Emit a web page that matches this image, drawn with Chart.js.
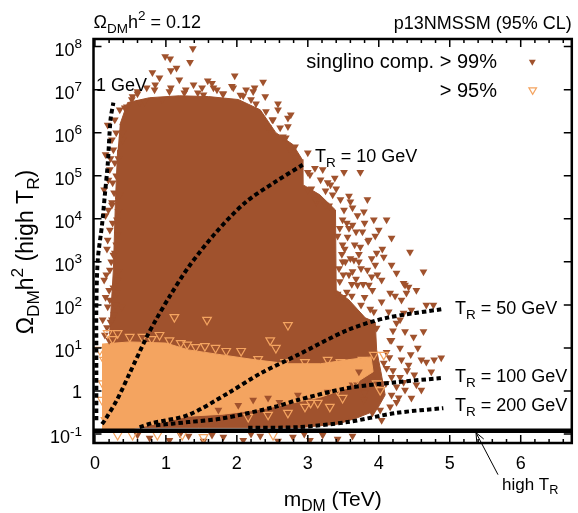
<!DOCTYPE html>
<html>
<head>
<meta charset="utf-8">
<script src="https://cdn.jsdelivr.net/npm/chart.js@4.4.1/dist/chart.umd.min.js"></script>
<style>
  html, body { margin: 0; padding: 0; background: #fff; }
  #chart { display: block; }
</style>
</head>
<body>
<canvas id="chart" width="578" height="513" style="width:578px;height:513px"></canvas>
<script>
// Axis ranges and ticks
const xRange = [-0.02, 6.72];
const yRange = [0.062, 1.5e8];
const xTicks = [0, 1, 2, 3, 4, 5, 6];
const xMinorStep = 0.2;
const yTickPowers = [-1, 0, 1, 2, 3, 4, 5, 6, 7, 8];
const yTickLabels = [['10', '-1'], ['1', ''], ['10', '1'], ['10', '2'], ['10', '3'],
                     ['10', '4'], ['10', '5'], ['10', '6'], ['10', '7'], ['10', '8']];
const omegaRelic = 0.12;

// Dense part of the >99% singlino cloud (outline, m_DM in TeV, Omega h^2)
const brownArea = [[0.35,1.5e6],[0.46,5e6],[0.77,6.5e6],[1.19,7.2e6],[1.60,6.9e6],[2.02,5.9e6],
  [2.33,3.4e6],[2.55,1e6],[2.79,5.3e5],[2.92,2.4e5],[2.93,6.2e4],[3.17,3.6e4],[3.39,1.6e4],
  [3.40,220],[3.58,130],[3.81,50],[3.95,40],[3.97,9],[4.03,2.8],[4.09,0.81],[3.97,0.36],
  [3.70,0.24],[3.42,0.17],[2.86,0.14],[1.46,0.14],[0.24,0.14],[0.18,1.8],[0.21,26],
  [0.26,650],[0.29,2.8e4],[0.32,4e5]];

// Dense part of the >95% cloud (outline)
const orangeArea = [[0.10,12.3],[0.49,13.8],[1.0,13],[1.32,9],[1.79,6.9],[2.26,5.3],[2.72,4.3],
  [3.18,4.3],[3.56,5.3],[3.89,6.2],[3.92,2.8],[3.56,1.17],[3.18,0.72],[2.72,0.5],[2.26,0.36],
  [1.81,0.29],[1.32,0.26],[0.84,0.17],[0.49,0.13],[0.10,0.13]];

// Scattered >99% points around the dense part
const brownPoints = [
  // upper fringe
  [1.38,9e7],[0.99,5.9e7],[1.06,5.2e7],[1.34,4.3e7],[1.07,2.8e7],[0.81,2.5e7],[0.91,1.9e7],
  [1.19,1.7e7],[1.59,1.6e7],[1.97,2.1e7],[2.37,1.5e7],[1.72,1e7],[2.40,6.9e6],[0.73,1.1e7],
  [0.53,6.9e6],[1.51,1.1e7],[1.28,1e7],[1.93,1.2e7],[2.13,1e7],[0.63,5e6],[0.35,3.4e6],
  [0.28,2e6],[0.39,1e6],[2.58,3.4e6],[2.76,2.6e6],[2.20,5.9e6],[2.72,1.4e6],[1.45,8.5e6],
  [1.05,9e6],[0.60,8e6],[1.80,8e6],[2.05,7.5e6],[2.50,2e6],[2.65,8e5],[0.45,4e6],[0.85,1.3e7],
  [1.65,1.4e7],[2.25,1.1e7],[1.15,3.2e7],
  [0.42,3.8e6],[0.52,5.9e6],[0.60,9e6],[0.70,5.2e6],[0.84,1e7],[0.95,5.9e6],[1.07,1.1e7],
  [1.26,8.5e6],[1.39,1.3e7],[1.53,7.6e6],[1.67,1.1e7],[1.81,8e6],[1.95,1.1e7],[2.09,7.2e6],
  [2.23,9e6],[2.27,4.7e6],[2.41,3.1e6],[2.51,2e6],[2.44,1.3e6],[2.61,1.3e6],[2.69,7.6e5],
  [2.75,4e5],[2.83,2.6e5],[2.72,2.2e6],[2.58,4.7e6],
  // left fringe
  [0.25,6.9e4],[0.24,2.4e4],[0.31,9.5e3],[0.21,5.5e3],[0.28,1.6e3],[0.21,650],[0.31,190],
  [0.18,90],[0.38,90],[0.28,2e5],[0.39,6.9e5],[0.22,40],[0.20,15],
  [0.18,1.5e6],[0.24,6.9e5],[0.15,3.1e5],[0.21,1.4e5],[0.13,4.7e4],[0.24,2.1e4],[0.15,1.2e4],
  [0.18,3.2e3],[0.26,1.45e3],[0.13,380],[0.21,130],[0.11,45],[0.24,45],[0.32,4.3e3],
  [0.35,3.6e4],[0.32,380],
  [0.30,1e6],[0.26,4e5],[0.33,2.5e5],[0.22,2.5e5],[0.30,1e5],[0.19,8e4],[0.27,4e4],[0.33,1.5e4],
  [0.19,1.6e4],[0.25,8e3],[0.17,2e3],[0.30,2.5e3],[0.23,1e3],[0.33,600],[0.16,500],[0.26,250],
  [0.20,220],[0.29,100],[0.15,150],[0.27,60],[0.17,30],[0.30,25],[0.14,20],[0.25,20],
  // right fringe
  [2.82,4.7e5],[3.0,3.4e5],[3.10,1.5e5],[3.18,8.1e4],[3.38,8.9e4],[3.51,1.2e5],[3.74,1.2e5],
  [3.32,6.2e4],[3.58,3.4e4],[3.46,2.8e4],[3.84,2.8e4],[3.51,1.6e4],[3.63,1.8e4],[3.79,1.45e4],
  [3.93,9.5e3],[4.11,9.5e3],[4.0,5.5e3],[4.18,3.6e3],[4.44,1.7e3],[4.63,590],[3.97,1.6e3],
  [4.07,1.3e3],[4.25,550],[4.35,320],[4.39,190],[4.67,100],[4.16,190],[3.84,650],[3.65,1.1e3],
  [3.56,3.8e3],[3.74,2.2e3],[3.49,2.5e3],[3.70,290],[3.91,220],[4.37,290],[4.23,160],[4.77,100],
  [4.63,24],[4.60,5.3],[4.78,5.3],[4.74,2.8],[4.50,2.4],[4.30,2.1],[4.25,1.25],[4.46,0.69],
  [4.60,1.05],[4.18,2.1],[4.30,10],[4.49,18],[4.37,24],[4.25,38],[4.07,4.5],[4.11,8],[4.35,65],
  [4.04,118],[3.93,69],[4.16,0.43],[3.91,0.31],[3.79,0.62],[4.02,0.36],[4.42,260],[4.16,15],
  [3.45,6e3],[3.55,8e3],[3.60,1.2e3],[3.50,500],[3.75,700],[3.62,300],[3.48,1.5e3],[3.68,5e3],
  [3.85,3e3],[3.55,200],[3.80,150],[3.45,350],[3.05,5e4],[3.25,4.5e4],[3.12,2.5e4],[3.30,2e4],
  [3.0,1.2e5],
  [3.0,4.7e4],[3.11,2.8e4],[3.25,2.1e4],[3.35,3.6e4],[3.03,1.05e5],[3.21,1.4e5],
  [3.49,9.5e3],[3.63,7.2e3],[3.77,5e3],[3.86,3.2e3],[3.49,1e3],[3.58,500],[3.72,1e3],
  [3.95,850],[4.04,380],[3.86,290],[4.18,850],[4.32,130],[4.46,76],[4.53,220],[4.14,69],
  [3.97,29],[4.18,15],[4.32,5.3],[4.11,3.4],[4.42,4],[4.18,0.81],[4.37,1.05],[4.53,1.4],
  [4.04,0.21],[4.25,0.55],[4.67,4.7],[4.88,5.9],
  [3.42,4e3],[3.52,2e3],[3.58,6e3],[3.66,2.5e3],[3.72,1.5e3],[3.80,8e3],[3.90,1.2e3],[3.44,700],
  [3.53,1e3],[3.63,600],[3.68,400],[3.78,300],[3.90,450],[3.42,180],[3.50,150],[3.62,160],
  [3.75,100],[3.88,80],[3.98,500],[4.05,2e3],[3.95,4e3],[3.70,1.2e4],[3.60,2.5e4],[3.40,5e4],
  [3.28,7e4],[4.20,3],[4.35,1.6],[4.10,1.5],[4.28,0.7],[4.40,3],[4.15,6],[4.45,7],[4.55,10],
  [4.20,25],[4.30,45],
  // below the relic line
  [0.77,0.081],[1.05,0.072],[1.32,0.09],[1.53,0.069],[1.81,0.085],[2.09,0.072],[2.33,0.09],
  [2.58,0.069],[2.79,0.085],[3.03,0.072],[3.21,0.095],[3.42,0.077],[3.63,0.09],[1.95,0.058],
  [0.91,0.058],[3.14,0.058],[1.20,0.1],[2.20,0.1],[2.95,0.1],[1.65,0.095],[0.60,0.095],
  // over the lower edge of the >95% band
  [2.02,0.47],[2.23,0.62],[2.44,0.69],[2.86,0.81],[3.28,0.95],[3.63,1.4],[3.72,2.8],[1.74,0.36],
  [2.60,0.55],[3.0,0.6],[3.4,0.8],[3.8,0.9],[3.9,1.8]];

// Scattered >95% points (open markers)
const orangePoints = [
  [0.18,22],[0.32,22],[0.49,18],[0.67,18],[0.91,20],[1.21,13],[1.42,10.5],[1.70,10],[2.06,8.5],
  [2.30,5.5],[2.68,4.7],[2.96,4.7],[3.28,5.3],[3.46,4.7],[1.58,45],[2.72,34],[2.47,15],[2.55,10],
  [1.85,8.5],[1.12,52],[3.93,6.9],[4.07,6.9],[3.77,5.3],[3.67,1.6],[3.97,1.5],[4.02,1.05],
  [3.42,1.05],[3.04,0.53],[2.96,0.43],[3.31,0.43],[3.49,0.69],[0.32,0.095],[0.53,0.095],
  [0.88,0.095],[1.23,0.095],[1.53,0.085],[2.51,0.095],[0.11,1.5],[0.10,0.62],[0.18,0.36],
  [0.15,0.21],[0.13,5.3],[0.07,9],[2.16,0.25],[2.44,0.28],[2.72,0.31],[3.14,0.53],
  [0.25,16],[0.80,16],[1.05,15],[1.30,12],[1.55,11]];

// Reheating temperature curves
const tr1 = [[0.02,0.21],[0.02,9],[0.02,90],[0.04,1.1e3],[0.10,7.2e3],[0.14,3.6e4],[0.18,1.8e5],[0.22,2e6],[0.26,5e6]];
const tr10 = [[0.10,0.17],[0.14,0.21],[0.31,0.62],[0.49,2.6],[0.73,18],[0.86,45],[1.05,155],
  [1.32,760],[1.70,4.7e3],[2.12,2.4e4],[2.54,7.2e4],[2.93,1.8e5]];
const tr50 = [[0.63,0.145],[0.81,0.18],[1.32,0.28],[1.88,0.9],[2.34,2.6],[2.86,6.9],[3.56,26],[4.11,50],[4.92,81]];
const tr100 = [[0.86,0.16],[1.32,0.19],[1.79,0.23],[2.54,0.43],[2.86,0.62],[3.56,1.17],[4.25,1.6],[4.88,2.0]];
const tr200 = [[2.16,0.14],[2.86,0.145],[3.56,0.19],[4.25,0.31],[4.91,0.40]];
const arrowTip = [5.37, omegaRelic];

const brown = '#A0522D';
const orange = '#F4A460';
const FONT = '"Liberation Sans", Arial, Helvetica, sans-serif';

const toXY = arr => arr.map(p => ({ x: p[0], y: p[1] }));

function curve(points) {
    return {
        data: toXY(points), showLine: true, borderColor: '#000', borderWidth: 4,
        borderDash: [4.5, 3], pointRadius: 0, tension: 0.3, fill: false, order: 1
    };
}

// draws text with sub/superscripts: parts = [[text, mode]], mode -1 sub, 1 sup
function drawRich(ctx, parts, x, y, size, align) {
    const widths = parts.map(([t, m]) => {
        ctx.font = (m ? size * 0.75 : size) + 'px ' + FONT;
        return ctx.measureText(t).width;
    });
    const total = widths.reduce((a, b) => a + b, 0);
    let cx = align === 'right' ? x - total : align === 'center' ? x - total / 2 : x;
    ctx.textAlign = 'left';
    ctx.textBaseline = 'alphabetic';
    parts.forEach(([t, m], i) => {
        ctx.font = (m ? size * 0.75 : size) + 'px ' + FONT;
        const dy = m === -1 ? size * 0.25 : m === 1 ? -size * 0.42 : 0;
        ctx.fillText(t, cx, y + dy);
        cx += widths[i];
    });
}

function triangle(ctx, x, y, r, fill, stroke, lw) {
    ctx.beginPath();
    ctx.moveTo(x, y + r);
    ctx.lineTo(x - r * 0.866, y - r / 2);
    ctx.lineTo(x + r * 0.866, y - r / 2);
    ctx.closePath();
    if (fill) { ctx.fillStyle = fill; ctx.fill(); }
    if (stroke) { ctx.strokeStyle = stroke; ctx.lineWidth = lw; ctx.stroke(); }
}

const framePlugin = {
    id: 'frame',
    afterDraw(chart) {
        const { ctx, chartArea: a, scales: { x, y } } = chart;
        ctx.save();
        ctx.fillStyle = '#000';
        ctx.strokeStyle = '#000';

        // ticks, inward on all four sides
        ctx.lineWidth = 1.5;
        ctx.beginPath();
        for (let v = 0; v <= xRange[1]; v += xMinorStep) {
            const px = x.getPixelForValue(v);
            const major = xTicks.some(t => Math.abs(t - v) < 1e-6);
            const len = major ? 8 : 4;
            ctx.moveTo(px, a.bottom); ctx.lineTo(px, a.bottom - len);
            ctx.moveTo(px, a.top); ctx.lineTo(px, a.top + len);
        }
        yTickPowers.forEach(p => {
            const py = y.getPixelForValue(Math.pow(10, p));
            ctx.moveTo(a.left, py); ctx.lineTo(a.left + 8, py);
            ctx.moveTo(a.right, py); ctx.lineTo(a.right - 8, py);
        });
        ctx.stroke();

        ctx.lineWidth = 2.5;
        ctx.strokeRect(a.left, a.top, a.right - a.left, a.bottom - a.top);

        // tick labels
        ctx.font = '18px ' + FONT;
        ctx.textAlign = 'center';
        ctx.textBaseline = 'alphabetic';
        xTicks.forEach(t => ctx.fillText(String(t), x.getPixelForValue(t), 468.5));
        yTickPowers.forEach((p, i) => {
            const py = y.getPixelForValue(Math.pow(10, p));
            const [base, exp] = yTickLabels[i];
            if (exp) drawRich(ctx, [[base, 0], [exp, 1]], 82, py + 9, 18, 'right');
            else drawRich(ctx, [[base, 0]], 82, py + 7, 18, 'right');
        });

        // axis titles
        drawRich(ctx, [['m', 0], ['DM', -1], [' (TeV)', 0]], (a.left + a.right) / 2, 506, 21, 'center');
        ctx.save();
        ctx.translate(33, 252);
        ctx.rotate(-Math.PI / 2);
        drawRich(ctx, [['\u03A9', 0], ['DM', -1], ['h', 0], ['2', 1], [' (high T', 0], ['R', -1], [')', 0]], 0, 0, 23, 'center');
        ctx.restore();

        // titles above the frame
        drawRich(ctx, [['\u03A9', 0], ['DM', -1], ['h', 0], ['2', 1], [' = 0.12', 0]], a.left, 28, 18, 'left');
        drawRich(ctx, [['p13NMSSM (95% CL)', 0]], a.right, 28.5, 18, 'right');

        // legend
        drawRich(ctx, [['singlino comp. > 99%', 0]], 497, 68, 20, 'right');
        drawRich(ctx, [['> 95%', 0]], 497, 97, 20, 'right');
        triangle(ctx, 532.3, 61.7, 4, brown, null, 0);
        triangle(ctx, 532.7, 90, 4.4, null, orange, 1.2);
        ctx.fillStyle = '#000';
        ctx.strokeStyle = '#000';

        // curve labels
        drawRich(ctx, [['1 GeV', 0]], 96, 91, 18, 'left');
        drawRich(ctx, [['T', 0], ['R', -1], [' = 10 GeV', 0]], 315, 162, 18, 'left');
        drawRich(ctx, [['T', 0], ['R', -1], [' = 50 GeV', 0]], 455, 314, 18, 'left');
        drawRich(ctx, [['T', 0], ['R', -1], [' = 100 GeV', 0]], 455, 382, 18, 'left');
        drawRich(ctx, [['T', 0], ['R', -1], [' = 200 GeV', 0]], 455, 411, 18, 'left');

        // arrow to the relic line
        const tx = x.getPixelForValue(arrowTip[0]);
        const ty = y.getPixelForValue(arrowTip[1]) + 2;
        const sx = tx + 22, sy = ty + 42;
        const ang = Math.atan2(ty - sy, tx - sx);
        ctx.lineWidth = 1;
        ctx.beginPath();
        ctx.moveTo(sx, sy); ctx.lineTo(tx, ty);
        ctx.moveTo(tx, ty); ctx.lineTo(tx - 10 * Math.cos(ang - 0.4), ty - 10 * Math.sin(ang - 0.4));
        ctx.moveTo(tx, ty); ctx.lineTo(tx - 10 * Math.cos(ang + 0.4), ty - 10 * Math.sin(ang + 0.4));
        ctx.stroke();
        drawRich(ctx, [['high T', 0], ['R', -1]], 502, 490, 17, 'left');

        ctx.restore();
    }
};

new Chart(document.getElementById('chart'), {
    type: 'scatter',
    data: {
        datasets: [
            {
                label: 'relic', data: toXY([[xRange[0], omegaRelic], [xRange[1], omegaRelic]]),
                showLine: true, borderColor: '#000', borderWidth: 4.5, pointRadius: 0, order: 0
            },
            curve(tr1), curve(tr10), curve(tr50), curve(tr100), curve(tr200),
            {
                label: '> 95%', data: toXY(orangePoints), pointStyle: 'triangle', pointRotation: 180,
                pointRadius: 5, pointBackgroundColor: 'rgba(0,0,0,0)', pointBorderColor: orange,
                pointBorderWidth: 1.2, clip: 0, order: 2
            },
            {
                label: 'singlino comp. > 99%', data: toXY(brownPoints), pointStyle: 'triangle', pointRotation: 180,
                pointRadius: 4.5, pointBackgroundColor: brown, pointBorderColor: brown,
                pointBorderWidth: 0, clip: 0, order: 3
            },
            {
                label: '95 area', data: toXY(orangeArea), showLine: true, fill: 'shape',
                backgroundColor: orange, borderColor: orange, borderWidth: 1, pointRadius: 0,
                tension: 0, clip: 0, order: 4
            },
            {
                label: '99 area', data: toXY(brownArea), showLine: true, fill: 'shape',
                backgroundColor: brown, borderColor: brown, borderWidth: 1, pointRadius: 0,
                tension: 0, clip: 0, order: 5
            }
        ]
    },
    options: {
        responsive: false,
        animation: false,
        layout: { padding: { left: 93.5, right: 1.5, top: 39, bottom: 70 } },
        scales: {
            x: { type: 'linear', min: xRange[0], max: xRange[1], display: false },
            y: { type: 'logarithmic', min: yRange[0], max: yRange[1], display: false }
        },
        plugins: {
            legend: { display: false },
            tooltip: { enabled: false }
        },
        events: []
    },
    plugins: [framePlugin]
});
</script>
</body>
</html>
